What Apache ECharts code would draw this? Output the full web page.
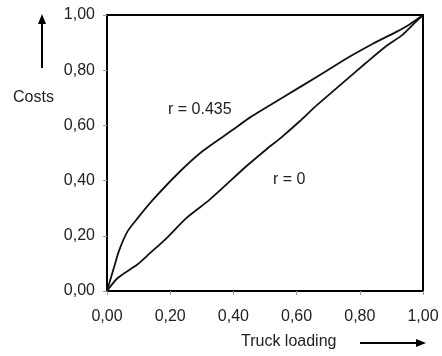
<!DOCTYPE html>
<html><head><meta charset="utf-8">
<script src="https://cdn.jsdelivr.net/npm/echarts@6/dist/echarts.min.js"></script>
<style>html,body{margin:0;padding:0;background:#fff}#c{width:442px;height:356px}</style>
</head><body><div id="c"></div>
<script>
var ticks = [0, 0.2, 0.4, 0.6, 0.8, 1.0];
var xUpper = [0, 0.023, 0.039, 0.065, 0.097, 0.145, 0.230, 0.304, 0.398, 0.454, 0.560, 0.666, 0.740, 0.777, 0.840, 0.914, 0.956, 1.0];
var yUpper = [0, 0.089, 0.149, 0.216, 0.264, 0.330, 0.432, 0.508, 0.584, 0.630, 0.704, 0.777, 0.830, 0.855, 0.895, 0.938, 0.965, 1.0];
var xLower = [0, 0.034, 0.097, 0.136, 0.188, 0.251, 0.325, 0.440, 0.503, 0.550, 0.609, 0.666, 0.745, 0.819, 0.882, 0.935, 0.977, 1.0];
var yLower = [0, 0.047, 0.097, 0.137, 0.191, 0.264, 0.331, 0.451, 0.512, 0.555, 0.614, 0.675, 0.753, 0.826, 0.886, 0.928, 0.975, 1.0];
var labelUpper = 'r = 0.435';
var labelLower = 'r = 0';
var xTitle = 'Truck loading';
var yTitle = 'Costs';

function pairs(xs, ys) { return xs.map(function (v, i) { return [v, ys[i]]; }); }
function fmt(v) { return v.toFixed(2).replace('.', ','); }
var FONT = 'Liberation Sans, Arial, sans-serif';
var chart = echarts.init(document.getElementById('c'));
var axisCommon = {
  type: 'value', min: 0, max: 1, interval: 0.2,
  splitLine: { show: false },
  axisLine: { show: false },
  axisTick: { show: true, inside: false, length: 4, lineStyle: { color: '#999', width: 1 } },
  axisLabel: { formatter: fmt, color: '#222', fontSize: 16, fontFamily: FONT }
};
chart.setOption({
  animation: false,
  grid: { left: 107, right: 19, top: 15, bottom: 65, show: true, borderColor: '#000', borderWidth: 2, backgroundColor: 'transparent' },
  xAxis: Object.assign({}, axisCommon, { axisLabel: Object.assign({}, axisCommon.axisLabel, { margin: 18 }) }),
  yAxis: Object.assign({}, axisCommon, { axisLabel: Object.assign({}, axisCommon.axisLabel, { margin: 12 }) }),
  series: [
    { type: 'line', data: pairs(xUpper, yUpper), smooth: 0.25, showSymbol: false, symbol: 'none', lineStyle: { color: '#111', width: 1.8 } },
    { type: 'line', data: pairs(xLower, yLower), smooth: 0.25, showSymbol: false, symbol: 'none', lineStyle: { color: '#111', width: 1.8 } }
  ],
  graphic: [
    { type: 'text', left: 168, top: 102, style: { text: labelUpper, fill: '#222', font: '16px ' + FONT } },
    { type: 'text', left: 273, top: 172, style: { text: labelLower, fill: '#222', font: '16px ' + FONT } },
    { type: 'text', left: 241, top: 334, style: { text: xTitle, fill: '#222', font: '16px ' + FONT } },
    { type: 'text', left: 13, top: 90, style: { text: yTitle, fill: '#222', font: '16px ' + FONT } },
    { type: 'line', shape: { x1: 360, y1: 343, x2: 418, y2: 343 }, style: { stroke: '#000', lineWidth: 2 } },
    { type: 'polygon', shape: { points: [[426, 343], [416, 339], [416, 347]] }, style: { fill: '#000' } },
    { type: 'line', shape: { x1: 42, y1: 68, x2: 42, y2: 22 }, style: { stroke: '#000', lineWidth: 2 } },
    { type: 'polygon', shape: { points: [[42, 14], [38, 24], [46, 24]] }, style: { fill: '#000' } }
  ]
});
</script></body></html>
